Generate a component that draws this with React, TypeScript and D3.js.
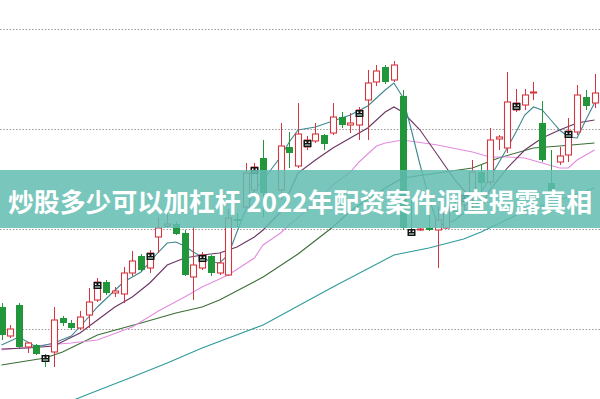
import React from 'react';
import * as d3 from 'd3';

const W = 600;
const H = 399;

// candle values (index 31 is an empty day)
const OPEN: (number | null)[] = [16.1, 14.65, 16.2, 14.1, 14.2, 13.7, 13.85, 15.55, 15.3, 15.05, 15.7, 16.45, 17.35, 16.8, 16.75, 17.8, 18.65, 18.05, 19.6, 20.15, 20.25, 19.8, 17.6, 18.05, 18.65, 17.8, 17.7, 20.5, 21.1, 21.95, 23.55, null, 21.95, 24.1, 23.15, 24.1, 24.4, 24.7, 24.8, 25.6, 25.2, 25.2, 26.45, 27.35, 28.1, 27.45, 26.65, 20.0, 19.95, 20.05, 19.95, 20.05, 21.1, 21.2, 21.85, 22.85, 22.35, 24.5, 24.05, 25.95, 26.2, 26.8, 25.3, 22.3, 23.35, 23.7, 24.85, 26.6, 26.3];
const CLOSE: (number | null)[] = [14.7, 15.0, 14.1, 14.3, 13.75, 13.35, 15.45, 15.3, 15.05, 15.6, 16.35, 17.35, 16.8, 16.9, 17.8, 18.4, 17.95, 18.8, 20.05, 20.25, 19.75, 17.7, 18.2, 18.7, 17.8, 18.3, 20.55, 20.4, 22.8, 23.1, 21.8, null, 24.15, 23.8, 24.75, 24.45, 24.75, 24.25, 25.6, 25.2, 25.3, 25.95, 27.3, 27.9, 27.35, 28.2, 20.05, 19.8, 20.0, 19.95, 20.45, 21.1, 20.85, 21.7, 22.85, 22.3, 24.45, 24.6, 26.35, 26.3, 26.7, 26.85, 23.45, 21.8, 23.65, 24.9, 26.7, 26.15, 26.8];
const HIGH: (number | null)[] = [16.3, 15.2, 16.3, 14.35, 14.25, 13.75, 16.1, 15.65, 15.45, 15.9, 17.05, 17.55, 17.45, 17.1, 18.1, 18.9, 18.75, 18.95, 20.6, 20.95, 20.35, 19.95, 20.1, 18.85, 18.7, 18.8, 21.0, 20.8, 23.3, 23.3, 24.45, null, 25.3, 24.85, 26.3, 24.65, 25.3, 24.75, 26.3, 25.85, 25.8, 26.1, 27.95, 28.2, 28.2, 28.4, 26.95, 21.45, 20.05, 21.95, 21.1, 21.6, 21.45, 21.95, 23.45, 23.2, 25.05, 24.7, 27.85, 27.0, 27.0, 27.35, 26.4, 23.95, 24.1, 25.55, 27.2, 26.95, 27.75];
const LOW: (number | null)[] = [14.45, 14.55, 14.05, 13.8, 13.7, 13.1, 13.1, 15.15, 14.95, 14.95, 15.05, 16.35, 16.7, 16.6, 16.3, 17.65, 17.85, 17.8, 18.8, 20.05, 19.7, 17.65, 16.45, 17.95, 17.65, 17.7, 17.65, 20.1, 21.0, 21.85, 20.6, null, 21.45, 23.05, 23.05, 23.95, 24.3, 23.95, 24.7, 25.05, 24.8, 24.45, 24.45, 27.15, 27.25, 27.35, 19.95, 19.75, 19.9, 19.9, 18.05, 20.0, 20.75, 20.95, 20.8, 21.95, 22.2, 23.95, 23.8, 25.85, 25.95, 26.45, 23.35, 21.45, 23.2, 23.35, 24.7, 25.95, 26.05];

const MARKER_IDX = [5, 11, 17, 23, 29, 35, 41, 47, 53, 59, 65];

// moving average lines: [candle index, value]
const MA5: [number, number][] = [[0, 14.2], [2, 14.6], [4, 14.1], [6, 14.3], [8, 14.65], [10, 15.6], [11, 16.1], [14, 17.35], [16, 17.85], [18, 18.85], [19, 19.3], [20, 19.35], [21, 19.15], [22, 18.85], [23, 18.6], [24, 18.35], [25, 18.3], [26, 18.7], [27, 19.85], [28, 20.95], [29, 21.95], [30, 22.45], [32, 23.6], [33, 24.35], [34, 24.95], [36, 25.1], [38, 25.4], [40, 25.7], [42, 26.15], [43, 26.55], [44, 26.95], [45, 27.3], [46, 26.6], [47, 24.95], [48, 23.2], [49, 21.6], [50, 20.2], [51, 20.25], [52, 20.45], [53, 20.8], [54, 21.35], [55, 21.85], [56, 22.55], [57, 23.3], [58, 24.05], [59, 24.85], [60, 25.7], [61, 26.1], [62, 25.95], [63, 25.45], [64, 24.95], [65, 24.6], [66, 24.55], [67, 25.45], [68, 26.3]];
const MA10: [number, number][] = [[0, 14.0], [3, 14.05], [6, 14.15], [9, 14.8], [11, 15.45], [13, 16.1], [15, 16.6], [17, 17.3], [19, 18.2], [21, 18.55], [23, 18.7], [25, 18.8], [27, 19.1], [29, 19.6], [30, 19.95], [32, 20.85], [34, 22.8], [36, 23.45], [38, 24.05], [40, 24.55], [42, 25.05], [44, 25.85], [45, 26.1], [46, 25.85], [48, 24.95], [50, 23.7], [52, 22.45], [54, 21.45], [55, 21.1], [56, 21.95], [58, 23.05], [60, 23.95], [62, 24.55], [64, 24.95], [66, 25.3], [68, 25.45]];
const MA20: [number, number][] = [[0, 13.95], [5, 14.2], [8, 14.3], [11, 14.45], [15, 15.1], [18, 15.9], [21, 16.6], [23, 17.1], [26, 17.7], [29, 18.55], [30, 19.2], [32, 19.8], [33, 20.2], [36, 21.3], [38, 22.2], [40, 22.85], [41, 23.35], [43, 24.15], [44, 24.3], [46, 24.45], [50, 24.2], [54, 23.85], [56, 23.6], [58, 23.6], [60, 23.55], [62, 23.3], [64, 23.05], [65, 23.05], [66, 23.45], [68, 23.95]];
const MA30: [number, number][] = [[0, 13.2], [5, 13.55], [7, 13.85], [11, 14.7], [16, 15.3], [20, 15.8], [23, 16.1], [25, 16.45], [30, 17.6], [34, 18.75], [38, 20.1], [40, 20.9], [44, 22.05], [46, 22.55], [50, 22.8], [54, 23.05], [57, 23.55], [61, 24.05], [64, 24.15], [68, 24.3]];
const MA60: [number, number][] = [[0, 10.0], [5, 10.85], [8, 11.4], [10, 11.75], [15, 12.6], [19, 13.3], [23, 14.05], [30, 15.2], [38, 17.1], [45, 18.7], [49, 19.05], [53, 19.5], [55, 19.85], [60, 20.9], [64, 21.45], [68, 22.05]];

const GRID = [30, 25, 20, 15];
const TITLE = '炒股多少可以加杠杆 2022年配资案件调查揭露真相';

const RED = '#d4363f';
const GREEN = '#22963a';

export default function App() {
  const x = d3.scaleLinear().domain([0, 68]).range([1.5, 594.5]);
  const y = d3.scaleLinear().domain([11.5, 31.45]).range([H, 0]);
  const line = d3
    .line<[number, number]>()
    .x((d) => x(d[0]))
    .y((d) => y(d[1]));

  const bodyW = 6;
  const candles = OPEN.map((o, i) => {
    const c = CLOSE[i];
    const h = HIGH[i];
    const l = LOW[i];
    if (o == null || c == null || h == null || l == null) return null;
    const cx = Math.round(x(i)) + 0.5;
    const up = c >= o;
    const top = y(Math.max(o, c));
    const bot = y(Math.min(o, c));
    const bh = Math.max(1, bot - top);
    const marker = MARKER_IDX.includes(i);
    if (up) {
      return (
        <g key={i}>
          <line x1={cx} x2={cx} y1={y(h)} y2={top} stroke={RED} strokeWidth={1} />
          <line x1={cx} x2={cx} y1={top + bh} y2={y(l)} stroke={RED} strokeWidth={1} />
          <rect x={cx - bodyW / 2} y={top} width={bodyW} height={bh} fill="#fff" stroke={RED} strokeWidth={1.1} />
          {marker && <Marker cx={cx} top={top} />}
        </g>
      );
    }
    return (
      <g key={i}>
        <line x1={cx} x2={cx} y1={y(h)} y2={y(l)} stroke={GREEN} strokeWidth={1} />
        <rect x={cx - bodyW / 2 - 0.5} y={top} width={bodyW + 1} height={bh} fill={GREEN} />
        {marker && <Marker cx={cx} top={top} />}
      </g>
    );
  });

  const maStyles: [[number, number][], string, number][] = [
    [MA60, '#2f9a9a', 1.1],
    [MA30, '#3b6e37', 1.1],
    [MA20, '#e48be0', 1.1],
    [MA10, '#6b3463', 1.1],
    [MA5, '#3f8790', 1.1],
  ];

  return (
    <svg width={W} height={H} style={{ position: 'fixed', left: 0, top: 0, background: '#fff' }}>
      <defs>
        <clipPath id="plot">
          <rect x={0} y={0} width={W} height={H} />
        </clipPath>
      </defs>
      <rect x={0} y={0} width={W} height={H} fill="#fff" />
      {GRID.map((g) => (
        <line key={g} x1={0} x2={W} y1={Math.round(y(g)) + 0.5} y2={Math.round(y(g)) + 0.5} stroke="#9a9a9a" strokeWidth={1} strokeDasharray="1.5 1.7" />
      ))}
      <g clipPath="url(#plot)">
        {maStyles.map(([d, col, sw], k) => (
          <path key={k} d={line(d) || ''} fill="none" stroke={col} strokeWidth={sw} />
        ))}
        {candles}
      </g>
      <rect x={0} y={170} width={W} height={58} fill="rgb(98,189,177)" opacity={0.86} />
      <text
        x={8}
        y={200}
        fill="#fff"
        fontFamily="'Noto Sans CJK SC', 'Noto Sans', sans-serif"
        fontWeight={700}
        fontSize={26}
        dominantBaseline="central"
        textLength={584}
        lengthAdjust="spacingAndGlyphs"
      >
        {TITLE}
      </text>
    </svg>
  );
}

function Marker({ cx, top }: { cx: number; top: number }) {
  const x0 = cx - 4;
  const y0 = top;
  return (
    <g>
      <rect x={x0} y={y0} width={8} height={7} fill="#141414" />
      <rect x={x0 + 1.5} y={y0 + 1.5} width={1.5} height={1.5} fill="#fff" />
      <rect x={x0 + 5} y={y0 + 1.5} width={1.5} height={1.5} fill="#fff" />
      <rect x={x0 + 1.5} y={y0 + 4.5} width={5} height={1} fill="#cfe" />
    </g>
  );
}
